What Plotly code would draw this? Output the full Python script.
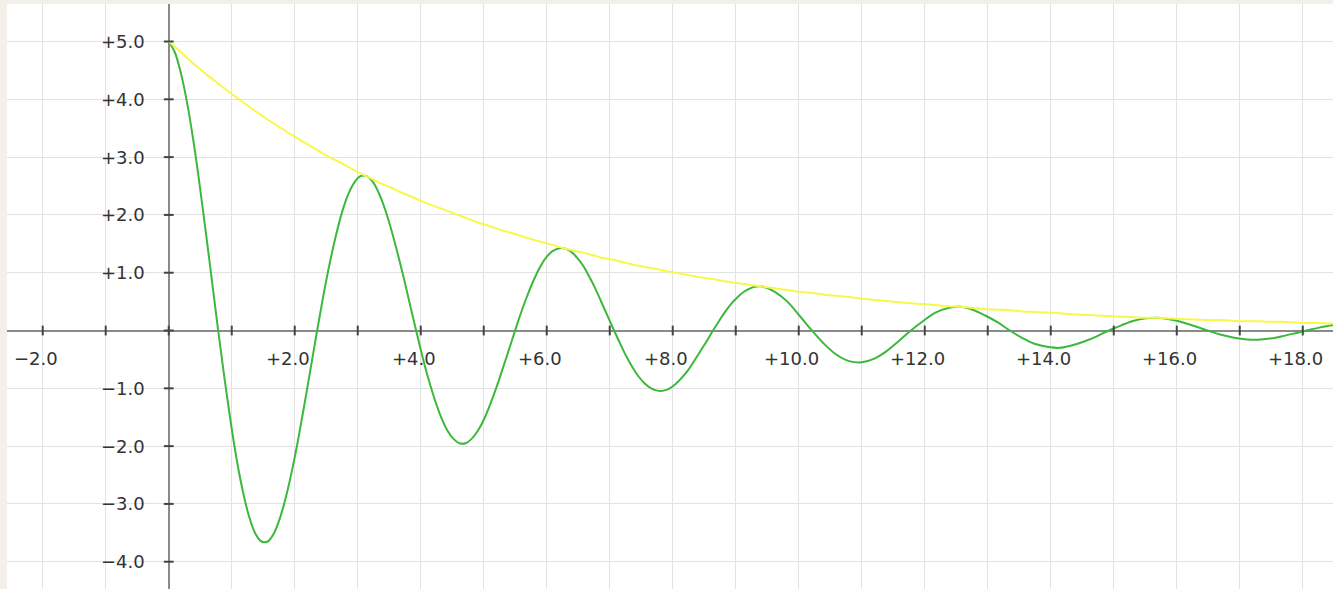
import plotly.graph_objects as go

# ---- data ----
# damped oscillation (green): denser readings over the first three periods
t_osc = [
    0.000, 0.098, 0.196, 0.295, 0.393, 0.491, 0.589, 0.687, 0.785, 0.884, 0.982, 1.080, 1.178, 1.276, 1.374, 1.473,
    1.571, 1.669, 1.767, 1.865, 1.963, 2.062, 2.160, 2.258, 2.356, 2.454, 2.553, 2.651, 2.749, 2.847, 2.945, 3.043,
    3.142, 3.240, 3.338, 3.436, 3.534, 3.632, 3.731, 3.829, 3.927, 4.025, 4.123, 4.221, 4.320, 4.418, 4.516, 4.614,
    4.712, 4.811, 4.909, 5.007, 5.105, 5.203, 5.301, 5.400, 5.498, 5.596, 5.694, 5.792, 5.890, 5.989, 6.087, 6.185,
    6.283, 6.381, 6.480, 6.578, 6.676, 6.774, 6.872, 6.970, 7.069, 7.167, 7.265, 7.363, 7.461, 7.560, 7.658, 7.756,
    7.854, 7.952, 8.050, 8.149, 8.247, 8.345, 8.443, 8.541, 8.639, 8.738, 8.836, 8.934, 9.032, 9.130, 9.228, 9.327,
    9.42, 9.62, 9.82, 10.01, 10.21, 10.41, 10.60, 10.80, 11.00, 11.19, 11.39, 11.58, 11.78, 11.98, 12.17, 12.37,
    12.57, 12.76, 12.96, 13.16, 13.35, 13.55, 13.74, 13.94, 14.14, 14.33, 14.53, 14.73, 14.92, 15.12, 15.32, 15.51,
    15.71, 15.90, 16.10, 16.30, 16.49, 16.69, 16.89, 17.08, 17.28, 17.48, 17.67, 17.87, 18.06, 18.26, 18.46, 18.65,
    18.85,
]

oscillation = [
    5.00, 4.81, 4.44, 3.92, 3.27, 2.52, 1.70, 0.85, 0.00, -0.82, -1.57, -2.24, -2.79, -3.22, -3.51, -3.65,
    -3.65, -3.51, -3.24, -2.86, -2.39, -1.84, -1.24, -0.62, 0.00, 0.60, 1.15, 1.63, 2.04, 2.35, 2.56, 2.67,
    2.67, 2.57, 2.37, 2.09, 1.74, 1.34, 0.91, 0.45, 0.00, -0.44, -0.84, -1.19, -1.49, -1.72, -1.87, -1.95,
    -1.95, -1.87, -1.73, -1.53, -1.27, -0.98, -0.66, -0.33, 0.00, 0.32, 0.61, 0.87, 1.09, 1.26, 1.37, 1.42,
    1.42, 1.37, 1.26, 1.12, 0.93, 0.72, 0.48, 0.24, 0.00, -0.23, -0.45, -0.64, -0.80, -0.92, -1.00, -1.04,
    -1.04, -1.00, -0.92, -0.81, -0.68, -0.52, -0.35, -0.18, 0.00, 0.17, 0.33, 0.47, 0.58, 0.67, 0.73, 0.76,
    0.76, 0.67, 0.50, 0.26, 0.00, -0.24, -0.42, -0.53, -0.55, -0.49, -0.36, -0.19, 0.00, 0.17, 0.31, 0.39,
    0.41, 0.36, 0.26, 0.14, 0.00, -0.13, -0.23, -0.28, -0.30, -0.26, -0.19, -0.10, 0.00, 0.09, 0.17, 0.21,
    0.22, 0.19, 0.14, 0.07, 0.00, -0.07, -0.12, -0.15, -0.16, -0.14, -0.10, -0.05, 0.00, 0.05, 0.09, 0.11,
    0.12,
]

# decay envelope (yellow)
t_env = [
    0.00, 0.20, 0.39, 0.59, 0.79, 0.98, 1.18, 1.37, 1.57, 1.77, 1.96, 2.16, 2.36, 2.55, 2.75, 2.95,
    3.14, 3.34, 3.53, 3.73, 3.93, 4.12, 4.32, 4.52, 4.71, 4.91, 5.11, 5.30, 5.50, 5.69, 5.89, 6.09,
    6.28, 6.48, 6.68, 6.87, 7.07, 7.26, 7.46, 7.66, 7.85, 8.05, 8.25, 8.44, 8.64, 8.84, 9.03, 9.23,
    9.42, 9.62, 9.82, 10.01, 10.21, 10.41, 10.60, 10.80, 11.00, 11.19, 11.39, 11.58, 11.78, 11.98, 12.17, 12.37,
    12.57, 12.76, 12.96, 13.16, 13.35, 13.55, 13.74, 13.94, 14.14, 14.33, 14.53, 14.73, 14.92, 15.12, 15.32, 15.51,
    15.71, 15.90, 16.10, 16.30, 16.49, 16.69, 16.89, 17.08, 17.28, 17.48, 17.67, 17.87, 18.06, 18.26, 18.46, 18.65,
    18.85,
]

envelope = [
    5.00, 4.81, 4.62, 4.44, 4.27, 4.11, 3.95, 3.80, 3.65, 3.51, 3.38, 3.25, 3.12, 3.00, 2.89, 2.77,
    2.67, 2.56, 2.47, 2.37, 2.28, 2.19, 2.11, 2.03, 1.95, 1.87, 1.80, 1.73, 1.67, 1.60, 1.54, 1.48,
    1.42, 1.37, 1.32, 1.26, 1.22, 1.17, 1.12, 1.08, 1.04, 1.00, 0.96, 0.92, 0.89, 0.85, 0.82, 0.79,
    0.76, 0.73, 0.70, 0.67, 0.65, 0.62, 0.60, 0.58, 0.55, 0.53, 0.51, 0.49, 0.47, 0.46, 0.44, 0.42,
    0.41, 0.39, 0.37, 0.36, 0.35, 0.33, 0.32, 0.31, 0.30, 0.28, 0.27, 0.26, 0.25, 0.24, 0.23, 0.22,
    0.22, 0.21, 0.20, 0.19, 0.18, 0.18, 0.17, 0.16, 0.16, 0.15, 0.15, 0.14, 0.13, 0.13, 0.12, 0.12,
    0.12,
]

x_tick_vals = [-2, 2, 4, 6, 8, 10, 12, 14, 16, 18]
x_tick_text = ["\u22122.0", "+2.0", "+4.0", "+6.0", "+8.0", "+10.0", "+12.0", "+14.0", "+16.0", "+18.0"]
y_tick_vals = [5, 4, 3, 2, 1, -1, -2, -3, -4]
y_tick_text = ["+5.0", "+4.0", "+3.0", "+2.0", "+1.0", "\u22121.0", "\u22122.0", "\u22123.0", "\u22124.0"]

x_marks = list(range(-2, 19))
y_marks = list(range(-4, 6))

# ---- figure ----
fig = go.Figure()

fig.add_trace(go.Scatter(x=t_osc, y=oscillation, mode="lines",
                         line=dict(color="#3cb83c", width=2, shape="spline", smoothing=1),
                         hoverinfo="skip", showlegend=False))
fig.add_trace(go.Scatter(x=t_env, y=envelope, mode="lines",
                         line=dict(color="#f8f84a", width=2, shape="spline", smoothing=1),
                         hoverinfo="skip", showlegend=False))

# small tick marks crossing the axes
fig.add_trace(go.Scatter(x=x_marks, y=[0] * len(x_marks), mode="markers",
                         marker=dict(symbol="line-ns-open", size=7, color="#444444",
                                     line=dict(color="#444444", width=2)),
                         hoverinfo="skip", showlegend=False))
fig.add_trace(go.Scatter(x=[0] * len(y_marks), y=y_marks, mode="markers",
                         marker=dict(symbol="line-ew-open", size=7, color="#444444",
                                     line=dict(color="#444444", width=2)),
                         hoverinfo="skip", showlegend=False))

annotations = []
for v, txt in zip(x_tick_vals, x_tick_text):
    annotations.append(dict(x=v, y=0, text=txt, showarrow=False, xanchor="center",
                            yanchor="middle", xshift=-7, yshift=-28,
                            font=dict(family="DejaVu Sans", size=18, color="#333333")))
for v, txt in zip(y_tick_vals, y_tick_text):
    annotations.append(dict(x=0, y=v, text=txt, showarrow=False, xanchor="right",
                            yanchor="middle", xshift=-22, yshift=0,
                            font=dict(family="DejaVu Sans", size=18, color="#333333")))

fig.update_layout(
    width=1333, height=589,
    margin=dict(l=7, r=0, t=4, b=0),
    paper_bgcolor="#f3efe9",
    plot_bgcolor="#ffffff",
    annotations=annotations,
    hovermode=False,
    xaxis=dict(range=[-2.567, 18.48], dtick=1, tick0=0, showgrid=True,
               gridcolor="#e2e2e2", gridwidth=1, zeroline=True,
               zerolinecolor="#8a8a8a", zerolinewidth=2, showticklabels=False,
               ticks="", showline=False, fixedrange=True),
    yaxis=dict(range=[-4.472, 5.649], dtick=1, tick0=0, showgrid=True,
               gridcolor="#e2e2e2", gridwidth=1, zeroline=True,
               zerolinecolor="#8a8a8a", zerolinewidth=2, showticklabels=False,
               ticks="", showline=False, fixedrange=True),
)

fig.write_html("out.html",
               config={"displayModeBar": False, "staticPlot": True},
               post_script="document.body.style.margin='0';"
                           "document.body.style.background='#f3efe9';"
                           "document.body.style.overflow='hidden';")
